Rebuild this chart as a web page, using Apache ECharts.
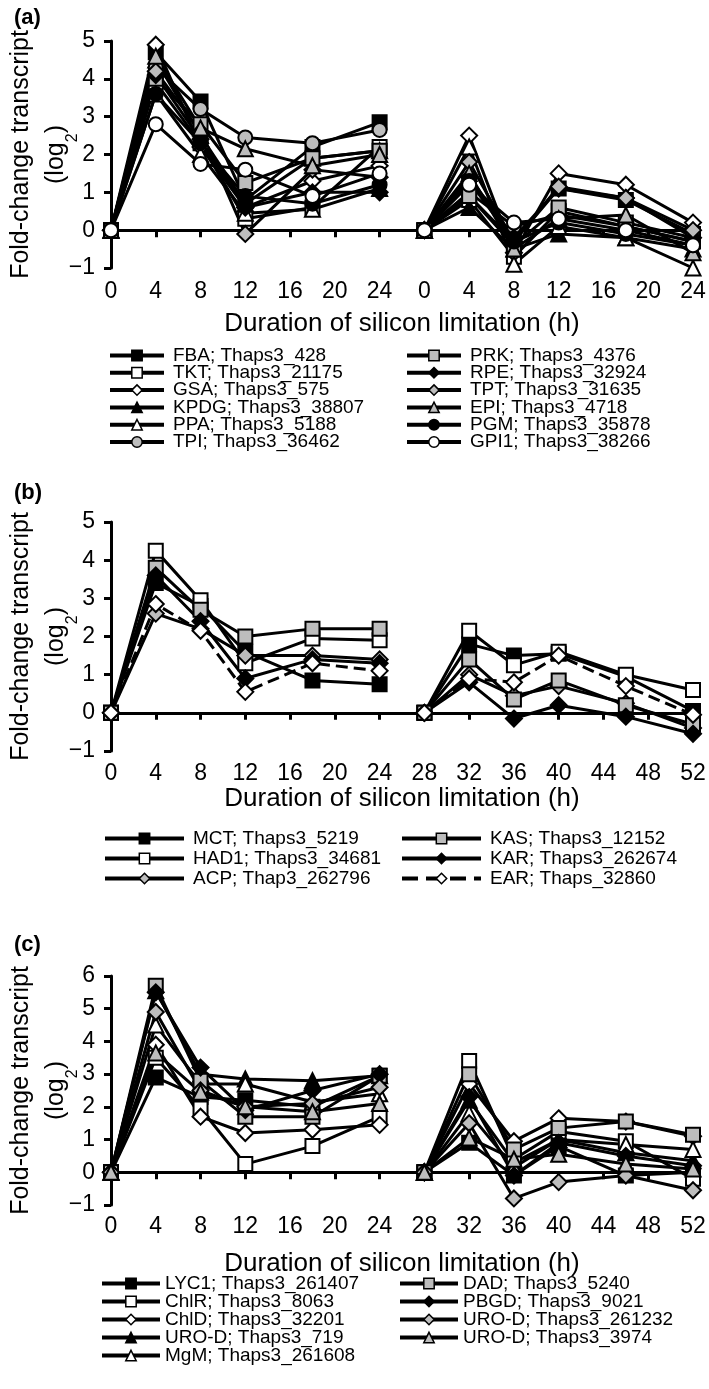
<!DOCTYPE html>
<html>
<head>
<meta charset="utf-8">
<script src="https://cdn.jsdelivr.net/npm/echarts@6/dist/echarts.min.js"></script>
<style>
html,body{margin:0;padding:0;background:#fff;}
#chart{width:709px;height:1389px;}
</style>
</head>
<body>
<div id="chart"></div>
<script>
// ---------- DATA ----------
// sampling times (h); second experiment placed at 28..52
const times = [0, 4, 8, 12, 18, 24, 28, 32, 36, 40, 46, 52];

// Panel (a)
const namesA = ['FBA; Thaps3_428', 'TKT; Thaps3_21175', 'GSA; Thaps3_575', 'KPDG; Thaps3_38807', 'PPA; Thaps3_5188', 'TPI; Thaps3_36462',
                'PRK; Thaps3_4376', 'RPE; Thaps3_32924', 'TPT; Thaps3_31635', 'EPI; Thaps3_4718', 'PGM; Thaps3_35878', 'GPI1; Thaps3_38266'];
const FBA  = [0, 4.7, 3.4, 0.8, 2.2, 2.85, 0, 0.9, -0.3, 1.1, 0.8, -0.1];
const TKT  = [0, 3.9, 2.3, 0.3, 0.6, 2.2, 0, 0.8, -0.7, 0.5, 0.1, -0.3];
const GSA  = [0, 4.9, 2.2, 0.6, 1.3, 1.7, 0, 2.5, -0.6, 1.5, 1.2, 0.2];
const KPDG = [0, 4.5, 2.5, 0.7, 1.9, 2.1, 0, 0.6, -0.5, -0.1, -0.2, -0.5];
const PPA  = [0, 3.6, 2.0, 0.45, 0.55, 1.1, 0, 2.2, -0.9, 0.1, -0.2, -1.0];
const TPI  = [0, 4.3, 3.2, 2.45, 2.3, 2.65, 0, 1.0, 0.1, 0.4, 0.1, -0.3];
const PRK  = [0, 4.0, 2.8, 1.25, 1.9, 2.1, 0, 0.9, -0.4, 0.6, 0.2, -0.2];
const RPE  = [0, 4.1, 2.4, 0.6, 1.0, 1.0, 0, 1.4, -0.2, 1.1, 0.85, -0.2];
const TPT  = [0, 4.2, 2.6, -0.1, 1.6, 1.4, 0, 1.8, -0.3, 1.15, 0.85, 0.0];
const EPI  = [0, 4.6, 2.7, 2.15, 1.7, 2.0, 0, 1.5, -0.5, 0.3, 0.4, -0.6];
const PGM  = [0, 3.6, 2.3, 0.9, 0.7, 1.2, 0, 1.3, -0.3, 0.2, -0.1, -0.4];
const GPI1 = [0, 2.8, 1.75, 1.6, 0.9, 1.5, 0, 1.2, 0.2, 0.3, 0.0, -0.4];
const valuesA = [FBA, TKT, GSA, KPDG, PPA, TPI, PRK, RPE, TPT, EPI, PGM, GPI1];

// Panel (b)
const namesB = ['MCT; Thaps3_5219', 'HAD1; Thaps3_34681', 'ACP; Thap3_262796', 'KAS; Thaps3_12152', 'KAR; Thaps3_262674', 'EAR; Thaps_32860'];
const MCT  = [0, 3.4, 2.8, 1.6, 0.85, 0.75, 0, 1.8, 1.5, 1.55, 0.95, 0.05];
const HAD1 = [0, 4.25, 2.95, 1.3, 1.95, 1.9, 0, 2.15, 1.25, 1.6, 1.0, 0.6];
const ACP  = [0, 2.6, 2.2, 1.5, 1.5, 1.4, 0, 1.0, 0.45, 0.7, 0.25, -0.4];
const KAS  = [0, 3.8, 2.7, 2.0, 2.2, 2.2, 0, 1.4, 0.35, 0.85, 0.2, -0.3];
const KAR  = [0, 3.6, 2.4, 0.9, 1.4, 1.3, 0, 0.8, -0.15, 0.2, -0.1, -0.55];
const EAR  = [0, 2.85, 2.15, 0.55, 1.3, 1.1, 0, 0.9, 0.8, 1.5, 0.7, -0.05];
const valuesB = [MCT, HAD1, ACP, KAS, KAR, EAR];

// Panel (c)
const namesC = ['LYC1; Thaps3_261407', 'ChlR; Thaps3_8063', 'ChlD; Thaps3_32201', 'URO-D; Thaps3_719', 'MgM; Thaps3_261608',
                'DAD; Thaps3_5240', 'PBGD; Thaps3_9021', 'URO-D; Thaps3_261232', 'URO-D; Thaps3_3974'];
const LYC1    = [0, 2.9, 2.3, 2.2, 2.0, 2.95, 0, 0.9, -0.1, 0.8, -0.1, 0.0];
const ChlR    = [0, 3.5, 1.95, 0.25, 0.8, 1.7, 0, 3.4, 0.4, 1.25, 0.95, -0.2];
const ChlD    = [0, 3.9, 1.7, 1.2, 1.3, 1.45, 0, 2.7, 0.95, 1.65, 1.55, 1.1];
const UROD719 = [0, 5.55, 3.0, 2.85, 2.8, 2.95, 0, 2.2, 0.3, 1.0, 0.6, 0.35];
const MgM     = [0, 4.5, 2.7, 2.7, 2.15, 2.4, 0, 1.8, 0.15, 1.0, 0.85, 0.7];
const DAD     = [0, 5.7, 2.8, 1.7, 1.7, 2.95, 0, 3.0, 0.7, 1.35, 1.55, 1.15];
const PBGD    = [0, 5.5, 3.2, 1.9, 2.5, 3.0, 0, 2.3, -0.1, 0.9, 0.5, 0.2];
const UROD261232 = [0, 4.9, 2.5, 2.0, 2.1, 2.6, 0, 1.5, -0.8, -0.3, -0.1, -0.55];
const UROD3974   = [0, 3.65, 2.45, 2.0, 1.85, 2.1, 0, 1.05, 0.4, 0.55, 0.25, 0.1];
const valuesC = [LYC1, ChlR, ChlD, UROD719, MgM, DAD, PBGD, UROD261232, UROD3974];

// axis tick values
const yTicksA = [-1, 0, 1, 2, 3, 4, 5];
const yTicksB = [-1, 0, 1, 2, 3, 4, 5];
const yTicksC = [-1, 0, 1, 2, 3, 4, 5, 6];

// ---------- STYLES ----------
const BLACK = '#000', WHITE = '#fff', GRAY = '#bdbdbd';
const stylesA = [
  ['rect', BLACK], ['rect', WHITE], ['diamond', WHITE], ['triangle', BLACK], ['triangle', WHITE], ['circle', GRAY],
  ['rect', GRAY], ['diamond', BLACK], ['diamond', GRAY], ['triangle', GRAY], ['circle', BLACK], ['circle', WHITE]
];
const stylesB = [
  ['rect', BLACK, 'solid'], ['rect', WHITE, 'solid'], ['diamond', GRAY, 'solid'],
  ['rect', GRAY, 'solid'], ['diamond', BLACK, 'solid'], ['diamond', WHITE, 'dashed']
];
const stylesC = [
  ['rect', BLACK], ['rect', WHITE], ['diamond', WHITE], ['triangle', BLACK], ['triangle', WHITE],
  ['rect', GRAY], ['diamond', BLACK], ['diamond', GRAY], ['triangle', GRAY]
];

const FONT = '"Liberation Sans", Arial, Helvetica, sans-serif';

const W = 709;
const PLOT_L = 111, PLOT_R = 693;
const panels = [
  {key: 'a', names: namesA, values: valuesA, styles: stylesA, ticks: yTicksA, top: 41, bottom: 268,
   relabel: true, labelMargin: 12, nameGap: 43, tagY: 18,
   legendTop: 346, legendGap: -1.7, leftCount: 6, textPad: 4,
   legL: 108, legR: 405, legW: 54},
  {key: 'b', names: namesB, values: valuesB, styles: stylesB, ticks: yTicksB, top: 522, bottom: 751,
   relabel: false, labelMargin: 11, nameGap: 33, tagY: 493,
   legendTop: 829, legendGap: 1, leftCount: 3, textPad: 4,
   legL: 103, legR: 400, legW: 79},
  {key: 'c', names: namesC, values: valuesC, styles: stylesC, ticks: yTicksC, top: 976, bottom: 1205,
   relabel: false, labelMargin: 10, nameGap: 46, tagY: 945,
   legendTop: 1274, legendGap: -1, leftCount: 5, textPad: 0,
   legL: 100, legR: 398, legW: 58}
];

const grid = [], xAxis = [], yAxis = [], series = [], legend = [], graphics = [];

panels.forEach((p, pi) => {
  grid.push({left: PLOT_L, right: W - PLOT_R, top: p.top, height: p.bottom - p.top,
    containLabel: false, outerBoundsMode: 'none'});
  const yMin = p.ticks[0], yMax = p.ticks[p.ticks.length - 1];
  // axis line at y = 0 with ticks
  xAxis.push({
    type: 'value', gridIndex: pi, min: 0, max: 52, interval: 4, position: 'bottom',
    axisLine: {show: true, onZero: true, lineStyle: {color: BLACK, width: 3}},
    axisTick: {show: true, inside: false, length: 7, lineStyle: {color: BLACK, width: 3}},
    axisLabel: {show: false}, splitLine: {show: false}
  });
  // labels at the bottom
  xAxis.push({
    type: 'value', gridIndex: pi, min: 0, max: 52, interval: 4, position: 'bottom',
    axisLine: {show: false, onZero: false}, axisTick: {show: false}, splitLine: {show: false},
    axisLabel: {show: true, fontSize: 23, color: BLACK, fontFamily: FONT, margin: p.labelMargin,
      formatter: v => String(p.relabel && v >= 28 ? v - 28 : v)},
    name: 'Duration of silicon limitation (h)', nameLocation: 'middle', nameGap: p.nameGap,
    nameTextStyle: {fontSize: 26, color: BLACK, fontFamily: FONT}
  });
  yAxis.push({
    type: 'value', gridIndex: pi, min: yMin, max: yMax, interval: 1,
    axisLine: {show: true, onZero: false, lineStyle: {color: BLACK, width: 3}},
    axisTick: {show: true, inside: false, length: 7, lineStyle: {color: BLACK, width: 3}},
    axisLabel: {fontSize: 23, color: BLACK, fontFamily: FONT, margin: 16,
      formatter: v => String(v).replace('-', '\u2212')},
    splitLine: {show: false}
  });
  p.names.forEach((nm, si) => {
    const st = p.styles[si];
    const vals = p.values[si];
    const data = times.map((t, k) => [t, vals[k]]);
    data.splice(6, 0, [26, '-']);
    series.push({
      type: 'line', name: nm, xAxisIndex: pi * 2, yAxisIndex: pi, data: data,
      symbol: st[0], symbolSize: st[0] === 'diamond' ? 16 : (st[0] === 'triangle' ? 15 : 14),
      showSymbol: true, connectNulls: false, clip: false, animation: false,
      lineStyle: {color: BLACK, width: 3, type: st[2] || 'solid'},
      itemStyle: {color: st[1], borderColor: BLACK, borderWidth: 2},
      emphasis: {disabled: true}, z: 2
    });
  });
  // two-column legend
  const leftNames = p.names.slice(0, p.leftCount), rightNames = p.names.slice(p.leftCount);
  [[leftNames, p.legL], [rightNames, p.legR]].forEach(([nms, lx]) => {
    legend.push({
      data: nms, orient: 'vertical', left: lx, top: p.legendTop, itemWidth: p.legW, itemHeight: 13,
      itemGap: p.legendGap, selectedMode: false, padding: 0,
      textStyle: {fontSize: 19, color: BLACK, fontFamily: FONT, padding: [0, 0, 0, p.textPad]},
      lineStyle: {width: 4}, itemStyle: {borderWidth: 1.5}
    });
  });
  // panel tag
  graphics.push({type: 'text', x: 14, y: p.tagY,
    style: {text: '(' + p.key + ')', fontSize: 22, fontWeight: 'bold', fill: BLACK, fontFamily: FONT, verticalAlign: 'middle'}});
  // y-axis title
  graphics.push({type: 'text', x: 39, y: (p.top + p.bottom) / 2, rotation: Math.PI / 2,
    style: {text: 'Fold-change transcript\n(log{s|2})', fontSize: 25, fill: BLACK, fontFamily: FONT,
      align: 'center', verticalAlign: 'middle', lineHeight: 35,
      rich: {s: {fontSize: 16, fill: BLACK, fontFamily: FONT, verticalAlign: 'bottom', padding: [0, 0, -7, 0]}}}});
});

const chart = echarts.init(document.getElementById('chart'), null, {renderer: 'canvas'});
chart.setOption({
  animation: false,
  backgroundColor: '#fff',
  grid: grid, xAxis: xAxis, yAxis: yAxis, series: series, legend: legend, graphic: graphics
});
</script>
</body>
</html>
